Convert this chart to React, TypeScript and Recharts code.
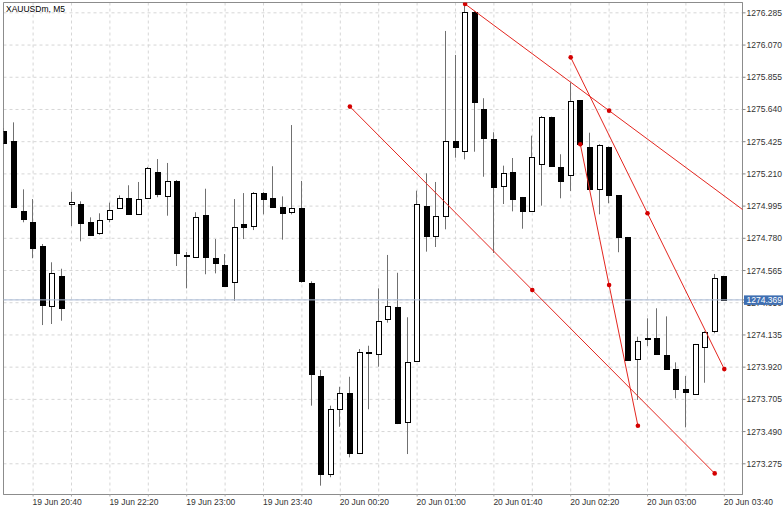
import React from 'react';
import {
  ComposedChart,
  Bar,
  Scatter,
  XAxis,
  YAxis,
  CartesianGrid,
  ReferenceLine,
  ReferenceArea,
} from 'recharts';

const symbolTitle = 'XAUUSDm, M5';

const times = [
  '19 Jun 20:25', '19 Jun 20:30', '19 Jun 20:35', '19 Jun 20:40', '19 Jun 20:45', '19 Jun 20:50', '19 Jun 20:55',
  '19 Jun 22:00', '19 Jun 22:05', '19 Jun 22:10', '19 Jun 22:15', '19 Jun 22:20', '19 Jun 22:25', '19 Jun 22:30',
  '19 Jun 22:35', '19 Jun 22:40', '19 Jun 22:45', '19 Jun 22:50', '19 Jun 22:55', '19 Jun 23:00', '19 Jun 23:05',
  '19 Jun 23:10', '19 Jun 23:15', '19 Jun 23:20', '19 Jun 23:25', '19 Jun 23:30', '19 Jun 23:35', '19 Jun 23:40',
  '19 Jun 23:45', '19 Jun 23:50', '19 Jun 23:55', '20 Jun 00:00', '20 Jun 00:05', '20 Jun 00:10', '20 Jun 00:15',
  '20 Jun 00:20', '20 Jun 00:25', '20 Jun 00:30', '20 Jun 00:35', '20 Jun 00:40', '20 Jun 00:45', '20 Jun 00:50',
  '20 Jun 00:55', '20 Jun 01:00', '20 Jun 01:05', '20 Jun 01:10', '20 Jun 01:15', '20 Jun 01:20', '20 Jun 01:25',
  '20 Jun 01:30', '20 Jun 01:35', '20 Jun 01:40', '20 Jun 01:45', '20 Jun 01:50', '20 Jun 01:55', '20 Jun 02:00',
  '20 Jun 02:05', '20 Jun 02:10', '20 Jun 02:15', '20 Jun 02:20', '20 Jun 02:25', '20 Jun 02:30', '20 Jun 02:35',
  '20 Jun 02:40', '20 Jun 02:45', '20 Jun 02:50', '20 Jun 02:55', '20 Jun 03:00', '20 Jun 03:05', '20 Jun 03:10',
  '20 Jun 03:15', '20 Jun 03:20', '20 Jun 03:25', '20 Jun 03:30', '20 Jun 03:35', '20 Jun 03:40',
];

const opens = [
  1275.498, 1275.430, 1274.962, 1274.889, 1274.727, 1274.326, 1274.530, 1275.007, 1275.007, 1274.887,
  1274.813, 1274.911, 1274.984, 1275.047, 1274.944, 1275.047, 1275.221, 1275.060, 1275.163, 1274.671,
  1274.653, 1274.938, 1274.647, 1274.604, 1274.486, 1274.874, 1274.860, 1275.084, 1275.047, 1274.989,
  1274.954, 1274.982, 1274.484, 1273.863, 1273.207, 1273.639, 1273.745, 1273.349, 1274.023, 1274.008,
  1274.241, 1274.323, 1273.554, 1273.959, 1274.999, 1274.795, 1274.929, 1275.428, 1275.361, 1276.293,
  1275.641, 1275.441, 1275.131, 1275.225, 1275.054, 1274.964, 1275.276, 1275.588, 1275.258, 1275.201,
  1275.701, 1275.392, 1275.111, 1275.388, 1275.067, 1274.787, 1273.972, 1274.108, 1274.116, 1274.003,
  1273.907, 1273.772, 1273.743, 1274.052, 1274.159, 1274.528,
];

const highs = [
  1275.516, 1275.554, 1275.107, 1275.042, 1274.742, 1274.620, 1274.577, 1275.091, 1275.027, 1274.920,
  1274.947, 1275.018, 1275.067, 1275.134, 1275.156, 1275.256, 1275.309, 1275.283, 1275.169, 1274.689,
  1274.954, 1275.111, 1274.775, 1274.675, 1275.042, 1275.082, 1275.089, 1275.089, 1275.261, 1275.060,
  1275.536, 1275.163, 1274.493, 1273.901, 1273.663, 1273.789, 1273.856, 1274.041, 1274.063, 1274.446,
  1274.669, 1274.550, 1274.253, 1275.098, 1275.214, 1275.156, 1276.164, 1276.004, 1276.344, 1276.297,
  1275.715, 1275.488, 1275.265, 1275.316, 1275.056, 1275.465, 1275.596, 1275.592, 1275.341, 1275.819,
  1275.703, 1275.485, 1275.408, 1275.393, 1275.069, 1274.789, 1274.123, 1274.246, 1274.313, 1274.259,
  1273.952, 1273.861, 1274.075, 1274.160, 1274.542, 1274.530,
];

const lows = [
  1275.410, 1274.982, 1274.887, 1274.647, 1274.201, 1274.208, 1274.230, 1274.862, 1274.760, 1274.797,
  1274.804, 1274.887, 1274.976, 1274.940, 1274.940, 1275.042, 1275.054, 1274.931, 1274.595, 1274.446,
  1274.649, 1274.540, 1274.546, 1274.457, 1274.363, 1274.775, 1274.835, 1274.940, 1274.985, 1274.771,
  1274.940, 1274.484, 1273.663, 1273.129, 1273.185, 1273.522, 1273.318, 1273.340, 1273.639, 1273.923,
  1274.217, 1273.540, 1273.340, 1273.955, 1274.691, 1274.722, 1274.840, 1275.318, 1275.307, 1275.358,
  1275.191, 1274.682, 1275.009, 1274.960, 1274.844, 1274.958, 1274.998, 1275.260, 1275.047, 1275.096,
  1275.403, 1275.109, 1274.940, 1275.014, 1274.687, 1273.966, 1273.701, 1274.061, 1274.003, 1273.901,
  1273.712, 1273.518, 1273.736, 1273.816, 1274.146, 1274.367,
];

const closes = [
  1275.418, 1274.987, 1274.907, 1274.715, 1274.337, 1274.546, 1274.313, 1275.022, 1274.884, 1274.802,
  1274.904, 1274.967, 1275.047, 1274.944, 1275.042, 1275.247, 1275.076, 1275.165, 1274.682, 1274.662,
  1274.924, 1274.657, 1274.613, 1274.462, 1274.855, 1274.857, 1275.084, 1275.040, 1274.987, 1274.947,
  1274.982, 1274.493, 1273.874, 1273.207, 1273.643, 1273.745, 1273.345, 1274.023, 1274.016, 1274.230,
  1274.328, 1273.545, 1273.952, 1275.007, 1274.797, 1274.926, 1275.432, 1275.390, 1276.289, 1275.688,
  1275.448, 1275.125, 1275.218, 1275.042, 1274.964, 1275.325, 1275.588, 1275.263, 1275.163, 1275.699,
  1275.408, 1275.111, 1275.401, 1275.067, 1274.791, 1273.968, 1274.092, 1274.114, 1274.006, 1273.907,
  1273.774, 1273.752, 1274.072, 1274.157, 1274.513, 1274.369,
];

const priceTicks = [
  1273.275, 1273.490, 1273.705, 1273.920, 1274.135, 1274.350, 1274.565, 1274.780,
  1274.995, 1275.210, 1275.425, 1275.640, 1275.855, 1276.070, 1276.285,
];

const lastPrice = 1274.369;

// trend lines: bar index and price of each anchor point
const trendLineA_x = [36, 55, 74];
const trendLineA_y = [1275.659, 1274.435, 1273.211];
const trendLineB_x = [48, 63, 78];
const trendLineB_y = [1276.344, 1275.632, 1274.920];
const trendLineC_x = [59, 67, 75];
const trendLineC_y = [1275.988, 1274.947, 1273.907];
const trendLineD_x = [60, 63, 66];
const trendLineD_y = [1275.408, 1274.468, 1273.529];

const trendLines = [
  { xs: trendLineA_x, ys: trendLineA_y },
  { xs: trendLineB_x, ys: trendLineB_y },
  { xs: trendLineC_x, ys: trendLineC_y },
  { xs: trendLineD_x, ys: trendLineD_y },
];

const data = times.map((t, i) => ({
  i,
  t,
  o: opens[i],
  h: highs[i],
  l: lows[i],
  c: closes[i],
  range: [lows[i], highs[i]],
}));

const gridIdx = times.map((_, i) => i).filter((i) => i % 4 === 3);

const X_DOMAIN: [number, number] = [-0.083, 76.896];
const Y_DOMAIN: [number, number] = [1273.07, 1276.354];

const FONT = '"Liberation Sans", Arial, Helvetica, sans-serif';

const Candle = (props: any) => {
  const { x, y, width, height, payload } = props;
  if (x == null || y == null) return null;
  const { o, h, l, c } = payload;
  const top = Math.min(y, y + height);
  const bottom = Math.max(y, y + height);
  const span = h - l || 1;
  const yOf = (p: number) => top + ((h - p) / span) * (bottom - top);
  const n = Math.floor(x + width / 2);
  const wx = n + 0.5;
  const up = c >= o;
  const bt = Math.round(yOf(Math.max(o, c))) + 0.5;
  let bb = Math.round(yOf(Math.min(o, c))) + 0.5;
  if (bb - bt < 1) bb = bt + 1;
  return (
    <g>
      <line x1={wx} x2={wx} y1={top} y2={bottom} stroke="#707070" strokeWidth={1} />
      <rect
        x={n - 1.5}
        y={bt}
        width={5}
        height={bb - bt}
        fill={up ? '#ffffff' : '#000000'}
        stroke="#000000"
        strokeWidth={1}
      />
    </g>
  );
};

const AnchorDot = (props: any) => {
  const { cx, cy } = props;
  if (cx == null || cy == null) return null;
  return <circle cx={cx} cy={cy} r={2.3} fill="#d40000" />;
};

const XTick = (props: any) => {
  const { x, y, payload } = props;
  const i = payload.value;
  const label = i % 8 === 3 ? times[i] : '';
  return (
    <text x={x - 0.5} y={y + 8.5} fontSize={8.5} fill="#333" fontFamily={FONT} textAnchor="start">
      {label}
    </text>
  );
};

const YTick = (props: any) => {
  const { x, y, payload } = props;
  const v = payload.value;
  if (v === lastPrice) {
    return (
      <g>
        <rect x={x - 2.5} y={y - 4.5} width={42} height={9.5} fill="#3f6fb2" />
        <text x={x} y={y + 3.2} fontSize={8.5} fill="#ffffff" fontFamily={FONT}>
          {v.toFixed(3)}
        </text>
      </g>
    );
  }
  return (
    <text x={x} y={y + 3} fontSize={8.5} fill="#333" fontFamily={FONT}>
      {v.toFixed(3)}
    </text>
  );
};

export default function App() {
  return (
    <div
      style={{
        position: 'absolute',
        left: 0,
        top: 0,
        width: 783,
        height: 508,
        background: '#ffffff',
        overflow: 'hidden',
      }}
    >
      <ComposedChart
        width={783}
        height={508}
        data={data}
        margin={{ top: 2.5, right: 0, left: 3.5, bottom: 0 }}
      >
        <CartesianGrid stroke="#d6d6d6" strokeDasharray="3 3" />
        <XAxis
          dataKey="i"
          type="number"
          domain={X_DOMAIN}
          allowDataOverflow
          ticks={gridIdx}
          interval={0}
          height={13.5}
          tickSize={2}
          tickMargin={0}
          tick={<XTick />}
          tickLine={{ stroke: '#aaa' }}
          axisLine={{ stroke: '#8c8c8c' }}
        />
        <YAxis
          orientation="right"
          type="number"
          domain={Y_DOMAIN}
          allowDataOverflow
          ticks={[...priceTicks, lastPrice]}
          interval={0}
          width={40.5}
          tickSize={3}
          tickMargin={1}
          tickLine={{ stroke: '#888' }}
          tick={<YTick />}
          axisLine={{ stroke: '#8c8c8c' }}
        />
        <ReferenceArea
          x1={X_DOMAIN[0]}
          x2={X_DOMAIN[1]}
          y1={Y_DOMAIN[0]}
          y2={Y_DOMAIN[1]}
          fill="none"
          fillOpacity={0}
          stroke="#8c8c8c"
          strokeOpacity={1}
          ifOverflow="visible"
        />
        <ReferenceLine y={lastPrice} stroke="#a9bbd6" strokeWidth={1} />
        <Bar dataKey="range" barSize={7} shape={<Candle />} isAnimationActive={false} />
        {trendLines.map((tl, k) => (
          <Scatter
            key={'tl' + k}
            data={tl.xs.map((xv, j) => ({ i: xv, p: tl.ys[j] }))}
            dataKey="p"
            line={{ stroke: '#e3261f', strokeWidth: 1 }}
            shape={<AnchorDot />}
            isAnimationActive={false}
          />
        ))}
      </ComposedChart>
      <div
        style={{
          position: 'absolute',
          left: 6,
          top: 4,
          fontFamily: FONT,
          fontSize: 8.5,
          color: '#000',
          lineHeight: '10px',
        }}
      >
        {symbolTitle}
      </div>
    </div>
  );
}
